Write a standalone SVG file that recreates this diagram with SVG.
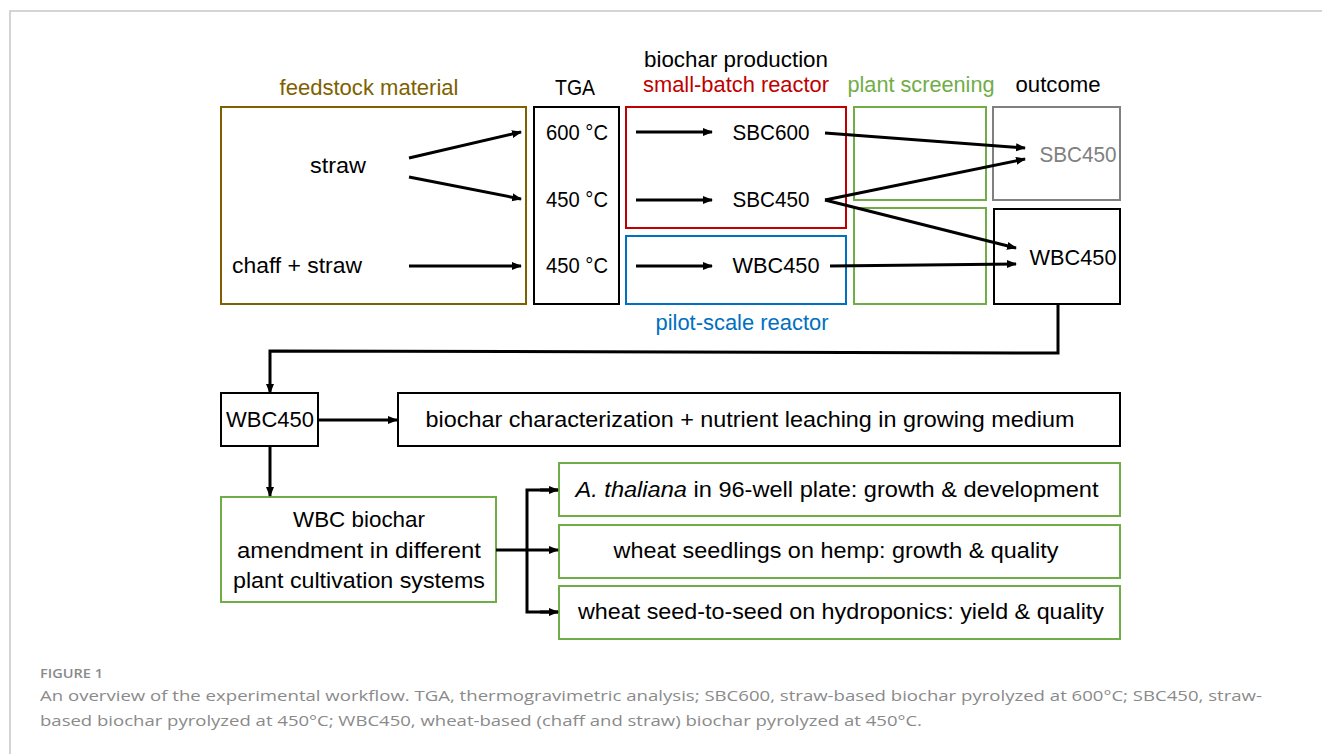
<svg xmlns="http://www.w3.org/2000/svg" width="1322" height="754" viewBox="0 0 1322 754">
<defs>
<marker id="ah" viewBox="0 0 10 10" refX="9" refY="5" markerWidth="10" markerHeight="10" markerUnits="userSpaceOnUse" orient="auto">
<path d="M0,1 L10,5 L0,9 z" fill="#000"/>
</marker>
<style>
text{font-family:"Liberation Sans",Arial,sans-serif;font-size:22px;fill:#000;text-anchor:middle}
.box{fill:none;stroke-width:2}
.k{stroke:#000}
.brn{stroke:#7f6000}
.red{stroke:#c00000}
.blu{stroke:#0070c0}
.grn{stroke:#70ad47}
.gry{stroke:#808080}
.c line,.c polyline{stroke:#000;stroke-width:3;fill:none;marker-end:url(#ah)}
.cap{font-family:"Open Sans","Liberation Sans",sans-serif;fill:#8a8a8a;text-anchor:start;font-size:15px}
</style>
</defs>
<rect width="1322" height="754" fill="#fff"/>
<polyline points="10,754 10,11 1322,11" fill="none" stroke="#c8c8c8" stroke-width="1.5"/>

<g id="headers">
<text x="369" y="95" style="fill:#7f6000" textLength="179" lengthAdjust="spacingAndGlyphs">feedstock material</text>
<text x="575" y="95" textLength="40" lengthAdjust="spacingAndGlyphs">TGA</text>
<text x="736" y="67" textLength="184" lengthAdjust="spacingAndGlyphs">biochar production</text>
<text x="736" y="92" style="fill:#c00000" textLength="186" lengthAdjust="spacingAndGlyphs">small-batch reactor</text>
<text x="921" y="92" style="fill:#70ad47" textLength="147" lengthAdjust="spacingAndGlyphs">plant screening</text>
<text x="1058" y="92" textLength="85" lengthAdjust="spacingAndGlyphs">outcome</text>
<text x="742" y="330" style="fill:#0070c0" textLength="173" lengthAdjust="spacingAndGlyphs">pilot-scale reactor</text>
</g>

<g id="feedstock">
<rect class="box brn" x="221" y="107" width="305" height="197"/>
<text x="338" y="173" textLength="56" lengthAdjust="spacingAndGlyphs">straw</text>
<text x="297" y="273" textLength="130" lengthAdjust="spacingAndGlyphs">chaff + straw</text>
</g>
<g id="tga">
<rect class="box k" x="534" y="107" width="85" height="197"/>
<text x="577" y="140" textLength="62" lengthAdjust="spacingAndGlyphs">600 °C</text>
<text x="577" y="207" textLength="62" lengthAdjust="spacingAndGlyphs">450 °C</text>
<text x="577" y="273" textLength="62" lengthAdjust="spacingAndGlyphs">450 °C</text>
</g>
<g id="smallbatch">
<rect class="box red" x="626" y="107" width="220" height="121"/>
<text x="771" y="140" textLength="77" lengthAdjust="spacingAndGlyphs">SBC600</text>
<text x="771" y="207" textLength="77" lengthAdjust="spacingAndGlyphs">SBC450</text>
</g>
<g id="pilot">
<rect class="box blu" x="626" y="236" width="220" height="68"/>
<text x="776" y="273" textLength="87" lengthAdjust="spacingAndGlyphs">WBC450</text>
</g>
<g id="screening">
<rect class="box grn" x="854" y="107" width="132" height="93"/>
<rect class="box grn" x="854" y="208" width="132" height="96"/>
</g>
<g id="outcome-sbc">
<rect class="box gry" x="993" y="107" width="127" height="93"/>
<text x="1078" y="162" style="fill:#808080" textLength="77" lengthAdjust="spacingAndGlyphs">SBC450</text>
</g>
<g id="outcome-wbc">
<rect class="box k" x="994" y="209" width="126" height="95"/>
<text x="1073" y="265" textLength="87" lengthAdjust="spacingAndGlyphs">WBC450</text>
</g>

<g id="wbc450">
<rect class="box k" x="221" y="393" width="97" height="53"/>
<text x="270" y="427" textLength="88" lengthAdjust="spacingAndGlyphs">WBC450</text>
</g>
<g id="characterization">
<rect class="box k" x="398" y="393" width="722" height="53"/>
<text x="750" y="427" textLength="649" lengthAdjust="spacingAndGlyphs">biochar characterization + nutrient leaching in growing medium</text>
</g>
<g id="amendment">
<rect class="box grn" x="221" y="497" width="275" height="105"/>
<text x="359" y="527" textLength="132" lengthAdjust="spacingAndGlyphs">WBC biochar</text>
<text x="359" y="558" textLength="244" lengthAdjust="spacingAndGlyphs">amendment in different</text>
<text x="359" y="588" textLength="252" lengthAdjust="spacingAndGlyphs">plant cultivation systems</text>
</g>
<g id="thaliana">
<rect class="box grn" x="559" y="463" width="561" height="53"/>
<text x="837" y="497" textLength="523" lengthAdjust="spacingAndGlyphs"><tspan font-style="italic">A. thaliana</tspan> in 96-well plate: growth &amp; development</text>
</g>
<g id="seedlings">
<rect class="box grn" x="559" y="525" width="561" height="53"/>
<text x="836" y="558" textLength="445" lengthAdjust="spacingAndGlyphs">wheat seedlings on hemp: growth &amp; quality</text>
</g>
<g id="seedtoseed">
<rect class="box grn" x="559" y="586" width="561" height="53"/>
<text x="841" y="619" textLength="526" lengthAdjust="spacingAndGlyphs">wheat seed-to-seed on hydroponics: yield &amp; quality</text>
</g>

<g id="connectors" class="c">
<line x1="409" y1="158" x2="521" y2="132"/>
<line x1="409" y1="177" x2="521" y2="199"/>
<line x1="409" y1="266" x2="521" y2="266"/>
<line x1="636" y1="132" x2="712" y2="132"/>
<line x1="636" y1="200" x2="712" y2="200"/>
<line x1="636" y1="266" x2="712" y2="266"/>
<line x1="825" y1="133" x2="1025" y2="148"/>
<line x1="825" y1="200" x2="1025" y2="159"/>
<line x1="825" y1="200" x2="1016" y2="248"/>
<line x1="830" y1="266" x2="1016" y2="264"/>
<polyline points="1058,304 1058,353 270,351 270,393"/>
<line x1="318" y1="420" x2="397" y2="420"/>
<line x1="270" y1="446" x2="270" y2="496"/>
<line x1="496" y1="550" x2="558" y2="550"/>
<polyline points="558,490 527,490 527,612 558,612" style="marker-end:none"/>
<line x1="540" y1="490" x2="558" y2="490"/>
<line x1="540" y1="612" x2="558" y2="612"/>
</g>

<g id="caption">
<text class="cap" x="40" y="678" style="font-size:13px;font-weight:600" textLength="63" lengthAdjust="spacingAndGlyphs">FIGURE 1</text>
<text class="cap" x="40" y="701" textLength="1222" lengthAdjust="spacingAndGlyphs">An overview of the experimental workflow. TGA, thermogravimetric analysis; SBC600, straw-based biochar pyrolyzed at 600°C; SBC450, straw-</text>
<text class="cap" x="40" y="726" textLength="882" lengthAdjust="spacingAndGlyphs">based biochar pyrolyzed at 450°C; WBC450, wheat-based (chaff and straw) biochar pyrolyzed at 450°C.</text>
</g>
</svg>
